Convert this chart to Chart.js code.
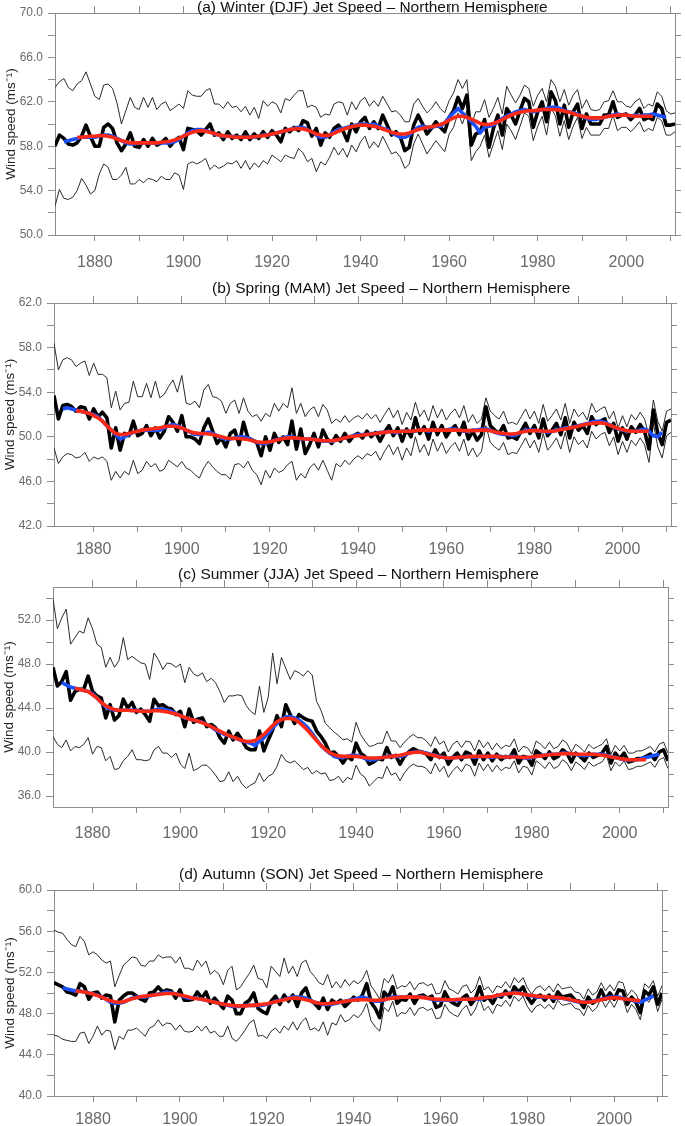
<!DOCTYPE html>
<html><head><meta charset="utf-8">
<script src="https://cdn.jsdelivr.net/npm/chart.js@4.4.1/dist/chart.umd.min.js"></script>
<style>
html,body{margin:0;padding:0;background:#fff;}
#wrap{position:relative;width:685px;height:1126px;overflow:hidden;background:#fff;}
#wrap canvas{position:absolute;left:0;}
</style></head><body>
<div id="wrap">
<canvas id="cA" width="685" height="280" style="top:0px"></canvas>
<canvas id="cB" width="685" height="296" style="top:275px"></canvas>
<canvas id="cC" width="685" height="292" style="top:560px"></canvas>
<canvas id="cD" width="685" height="281" style="top:845px"></canvas>
</div>
<script>
// ---- categories / ticks ----
const firstYear = 1871, lastYear = 2011;
const blueStart = 1873, redStart = 1876;
const xTickYears = [1880,1890,1900,1910,1920,1930,1940,1950,1960,1970,1980,1990,2000,2010];
const xLabelYears = [1880,1900,1920,1940,1960,1980,2000];

// ---- (a) Winter ----
const winterMean = [58.0,59.0,58.7,58.2,58.1,58.3,58.9,59.9,58.9,
58.0,58.0,59.7,60.0,59.6,58.3,57.6,58.2,59.2,58.0,
57.9,58.6,58.0,58.7,58.1,58.3,58.7,58.0,58.5,58.8,
57.7,59.6,59.5,59.4,59.0,59.5,60.0,59.0,59.2,58.6,
59.3,58.7,59.0,58.6,59.3,58.6,59.1,58.7,59.3,58.8,
59.4,59.0,58.4,59.6,59.3,59.7,59.4,60.3,60.1,58.9,
59.6,58.1,59.2,58.8,59.6,59.9,59.4,58.5,60.0,59.3,
60.2,60.6,59.6,60.2,59.6,60.8,59.9,59.0,59.3,58.8,
57.6,57.9,59.9,60.8,60.0,59.1,59.6,60.2,59.7,59.3,
60.6,61.2,62.4,61.4,62.6,58.1,59.1,59.3,60.4,57.9,
59.6,60.8,59.0,61.4,60.8,60.0,61.2,62.3,62.0,59.7,
61.1,62.0,60.2,62.9,62.1,60.0,61.7,59.7,61.1,61.8,
59.6,60.9,60.0,60.0,60.0,60.8,60.8,62.0,60.6,60.8,
60.9,60.4,60.8,61.4,60.4,60.6,60.4,61.8,61.4,59.9,
59.9,60.0];
const winterUpper = [63.3,63.8,64.1,63.3,63.0,63.6,63.9,64.7,63.6,
62.5,62.2,63.5,63.6,63.2,61.9,60.0,61.2,62.4,61.5,
61.3,62.4,61.5,62.4,61.3,61.8,62.0,61.2,61.5,61.8,
61.4,63.0,62.6,62.5,62.5,63.0,63.2,61.8,61.8,61.4,
62.0,61.5,61.6,61.1,61.6,60.8,61.5,60.5,62.1,61.6,
62.0,61.8,61.0,62.3,62.1,62.6,63.0,63.0,61.5,61.7,
61.5,60.6,60.9,60.8,61.8,62.0,61.9,60.8,62.0,61.3,
62.1,62.4,61.6,62.1,61.6,62.5,61.8,61.1,61.2,60.8,
60.2,60.2,61.8,62.3,61.6,61.0,61.4,62.0,61.4,61.0,
62.1,62.8,64.0,63.2,64.0,59.9,61.1,61.1,62.2,60.6,
61.4,62.4,60.9,63.4,62.6,61.9,62.6,63.5,63.2,61.6,
62.6,63.2,62.0,64.0,63.4,62.0,63.1,61.7,62.6,63.1,
61.4,62.2,61.3,61.2,61.3,62.0,62.1,63.0,62.0,62.0,
61.6,61.5,62.0,62.3,61.4,61.8,61.6,62.9,62.5,61.2,
60.9,61.0];
const winterLower = [52.6,54.1,53.3,53.2,53.4,54.0,55.1,54.5,53.7,
54.0,55.5,56.4,56.1,55.0,55.0,55.4,56.1,54.6,54.6,
55.0,54.7,55.1,55.0,54.8,55.3,55.0,55.0,55.6,55.4,
54.1,56.4,56.6,56.4,56.6,56.9,55.9,56.3,56.0,56.2,
56.5,56.4,56.7,56.0,56.7,55.9,56.5,56.1,56.7,56.4,
57.2,56.9,56.6,57.2,57.0,56.9,57.8,57.4,56.6,56.9,
55.7,56.6,56.3,57.0,57.9,57.2,57.8,57.0,58.1,57.5,
58.4,58.9,57.8,58.4,57.9,58.9,58.1,57.3,57.5,57.0,
56.0,56.4,58.2,59.1,58.2,57.3,57.9,58.5,58.0,57.5,
59.1,59.7,61.0,60.0,61.2,56.7,57.5,58.0,59.0,57.0,
58.2,59.4,57.7,60.0,59.4,58.6,59.8,61.0,60.7,58.5,
59.8,60.7,59.0,61.5,60.7,58.9,60.3,58.6,59.8,60.6,
58.7,59.7,59.0,59.0,59.0,59.6,59.6,60.8,59.4,59.7,
59.7,59.3,59.7,60.2,59.3,59.6,59.4,60.6,60.3,59.0,
59.0,59.3];
const winterBlue = [58.4,58.5,58.6,58.7,58.8,58.8,58.8,
58.8,58.9,59.0,59.0,58.9,58.7,58.5,58.3,58.2,58.2,
58.3,58.3,58.3,58.3,58.3,58.3,58.3,58.3,58.4,58.6,
58.9,59.2,59.4,59.5,59.5,59.4,59.3,59.1,59.0,58.9,
58.9,58.9,58.8,58.8,58.8,58.8,58.8,58.9,59.0,59.0,
59.1,59.2,59.3,59.4,59.5,59.6,59.7,59.7,59.5,59.3,
59.0,58.8,58.8,59.0,59.3,59.5,59.6,59.7,59.8,59.9,
60.0,60.0,59.9,60.0,59.8,59.6,59.5,59.2,59.0,58.8,
58.8,59.0,59.4,59.7,59.8,59.7,59.7,59.8,59.8,60.1,
60.6,61.0,61.4,61.0,60.6,60.2,59.8,59.2,59.7,59.8,
59.9,60.2,60.5,60.7,60.9,61.1,61.2,61.3,61.2,61.1,
61.2,61.3,61.4,61.5,61.5,61.4,61.2,61.1,61.0,60.9,
60.7,60.5,60.4,60.4,60.5,60.6,60.7,60.8,60.9,60.8,
60.8,60.7,60.8,60.7,60.8,60.8,60.9,60.8,60.7,60.6];
const winterRed = [58.8,58.8,58.85,58.9,
58.9,58.95,58.95,58.9,58.8,58.65,58.5,58.4,58.3,58.3,
58.3,58.3,58.3,58.3,58.3,58.35,58.4,58.45,58.55,58.7,
58.9,59.1,59.25,59.35,59.4,59.35,59.25,59.15,59.0,58.95,
58.9,58.85,58.8,58.8,58.8,58.8,58.85,58.9,58.95,59.0,
59.1,59.2,59.3,59.4,59.5,59.55,59.6,59.55,59.45,59.3,
59.1,59.0,58.95,59.0,59.15,59.35,59.5,59.65,59.75,59.85,
59.9,59.9,59.85,59.8,59.7,59.55,59.4,59.25,59.15,59.1,
59.1,59.2,59.35,59.5,59.6,59.7,59.75,59.85,59.95,60.1,
60.35,60.55,60.7,60.7,60.6,60.45,60.25,60.05,59.95,59.95,
60.05,60.2,60.4,60.6,60.8,60.95,61.05,61.15,61.2,61.2,
61.25,61.3,61.3,61.3,61.3,61.25,61.15,61.05,60.95,60.8,
60.7,60.6,60.55,60.55,60.55,60.6,60.7,60.75,60.8,60.8,
60.8,60.75,60.7,60.7,60.7,60.7,60.7];

// ---- (b) Spring ----
const springMean = [53.7,51.6,52.8,52.9,52.7,52.3,52.7,52.6,51.6,
52.5,51.8,52.2,51.7,49.0,50.8,48.8,50.3,50.1,51.4,
50.1,50.3,51.0,50.1,50.8,49.9,50.5,51.8,51.3,50.5,
51.9,50.0,50.0,49.8,49.4,50.8,51.6,50.5,49.4,49.9,
49.1,50.3,50.6,49.3,51.3,49.9,49.7,49.5,48.3,50.0,
48.8,50.3,49.5,50.0,49.3,51.4,48.9,50.7,48.5,49.3,
50.3,49.1,50.6,49.8,49.4,50.1,49.6,50.3,49.6,50.1,
50.3,49.9,50.5,50.0,50.4,49.6,50.4,51.0,50.1,50.8,
49.6,50.7,50.0,51.7,50.3,50.9,49.8,51.3,50.2,51.0,
50.0,50.6,51.0,50.2,51.3,49.8,50.5,49.7,50.2,52.7,
51.0,50.6,50.3,51.0,49.9,50.0,49.8,50.5,51.2,50.3,
51.0,49.9,51.6,50.1,50.6,51.2,50.2,51.7,49.9,51.3,
50.6,51.0,50.3,51.8,51.1,51.4,51.6,50.4,51.2,49.6,
50.8,49.8,50.9,50.4,51.1,50.5,48.9,52.4,50.3,49.3,
51.3,51.5];
const springUpper = [58.4,56.0,56.9,57.1,56.9,56.3,56.6,56.8,55.5,
56.6,55.6,55.6,55.3,52.6,54.1,52.4,53.0,53.1,55.0,
53.6,53.6,54.8,53.5,55.0,53.5,53.8,54.5,55.1,54.0,
55.5,53.0,52.9,53.2,52.6,54.2,54.7,53.6,53.5,53.2,
52.1,53.0,53.3,52.1,53.5,52.3,51.8,52.0,51.4,52.1,
51.8,53.0,52.3,53.0,52.6,54.4,52.1,53.0,51.8,52.4,
52.7,51.8,52.9,52.4,51.2,51.6,51.3,51.9,51.3,51.7,
51.9,51.6,52.1,51.6,52.0,51.3,52.0,52.6,51.7,52.4,
51.1,52.2,51.5,53.1,51.8,52.4,51.4,52.8,51.7,52.5,
51.5,52.1,52.5,51.7,52.8,51.3,52.0,51.2,51.6,53.5,
52.3,51.9,51.6,52.3,51.2,51.3,51.1,51.8,52.5,51.6,
52.3,51.2,52.9,51.4,51.9,52.5,51.5,53.0,51.2,52.5,
51.8,52.2,51.5,53.0,52.2,52.5,52.7,51.6,52.3,50.8,
51.9,50.9,52.0,51.5,52.2,51.6,50.1,53.3,51.4,50.5,
52.3,52.5];
const springLower = [49.0,47.6,48.2,48.5,48.4,48.1,48.2,48.6,47.8,
48.2,48.0,48.2,47.8,46.1,46.9,46.3,46.9,46.6,47.9,
46.7,47.0,47.8,47.3,47.6,46.9,47.1,47.9,47.6,47.3,
47.8,47.2,47.0,46.6,46.3,47.2,47.8,47.3,46.9,46.6,
46.6,46.2,47.5,47.6,47.2,47.8,47.0,46.6,45.7,47.0,
46.3,47.2,46.8,47.0,47.5,47.8,46.1,46.7,46.3,47.2,
47.6,47.0,47.9,47.0,46.1,47.6,47.3,47.9,47.5,48.0,
48.3,48.0,48.5,48.3,48.7,47.9,48.7,49.3,48.4,49.1,
47.9,49.0,48.3,50.0,48.6,49.3,48.3,49.8,48.7,49.5,
48.5,49.1,49.5,48.7,49.8,48.3,49.0,48.2,48.7,51.0,
49.5,49.1,48.8,49.5,48.4,48.6,48.5,49.2,49.9,49.0,
49.7,48.6,50.3,48.8,49.3,49.9,48.9,50.4,48.6,50.0,
49.3,49.7,49.0,50.5,49.8,50.2,50.4,49.2,50.0,48.4,
49.6,48.6,49.7,49.2,49.9,49.3,47.7,51.2,49.1,48.1,
50.1,50.4];
const springBlue = [52.5,52.6,52.5,52.4,52.3,52.2,52.1,
52.0,51.8,51.4,51.0,50.6,50.2,49.8,50.0,50.2,50.4,
50.5,50.6,50.6,50.6,50.6,50.6,50.8,51.0,51.1,51.0,
50.8,50.6,50.4,50.2,50.2,50.3,50.4,50.3,50.1,49.9,
49.8,49.8,49.9,50.0,50.0,49.9,49.7,49.5,49.4,49.4,
49.5,49.7,49.8,49.9,50.0,50.0,49.9,49.8,49.8,49.8,
49.8,49.7,49.6,49.6,49.6,49.7,49.8,49.9,50.0,50.1,
50.2,50.2,50.2,50.3,50.3,50.4,50.4,50.5,50.4,50.4,
50.5,50.5,50.5,50.5,50.6,50.6,50.5,50.6,50.6,50.6,
50.6,50.7,50.7,50.6,50.5,50.5,50.6,50.6,50.7,50.7,
50.6,50.4,50.3,50.2,50.2,50.1,50.2,50.4,50.6,50.6,
50.6,50.5,50.5,50.4,50.5,50.6,50.7,50.8,50.8,50.9,
51.0,51.1,51.2,51.3,51.4,51.4,51.3,51.1,50.9,50.7,
50.6,50.5,50.5,50.5,50.6,50.7,50.5,50.1,50.0,50.4];
const springRed = [52.3,52.3,52.2,52.1,
51.9,51.7,51.4,51.0,50.6,50.3,50.2,50.2,50.3,50.4,
50.5,50.6,50.65,50.7,50.75,50.8,50.9,50.95,50.95,50.9,
50.8,50.6,50.45,50.35,50.3,50.3,50.25,50.2,50.1,50.0,
49.9,49.85,49.85,49.85,49.8,49.75,49.65,49.55,49.5,49.5,
49.55,49.65,49.75,49.85,49.9,49.9,49.9,49.85,49.8,49.8,
49.75,49.7,49.65,49.65,49.65,49.7,49.8,49.9,50.0,50.05,
50.1,50.15,50.2,50.25,50.3,50.35,50.4,50.45,50.45,50.45,
50.5,50.5,50.5,50.55,50.6,50.6,50.6,50.6,50.6,50.6,
50.6,50.6,50.6,50.6,50.55,50.55,50.55,50.55,50.6,50.6,
50.55,50.45,50.35,50.3,50.25,50.25,50.3,50.4,50.5,50.55,
50.55,50.55,50.5,50.5,50.5,50.55,50.65,50.7,50.8,50.85,
50.95,51.05,51.15,51.2,51.25,51.25,51.2,51.05,50.9,50.75,
50.65,50.55,50.5,50.5,50.5,50.5,50.5];

// ---- (c) Summer ----
const summerMean = [47.7,46.0,46.4,47.3,44.7,45.5,45.7,45.7,46.9,
45.5,45.1,44.9,43.1,44.3,42.9,43.3,44.8,44.0,44.5,
43.6,43.9,43.4,42.8,44.8,44.2,44.3,44.0,43.9,43.4,
43.7,42.3,43.9,42.7,43.0,43.1,42.3,42.5,42.2,41.3,
40.8,41.9,41.1,41.7,41.1,40.4,40.2,40.2,41.9,40.1,
41.1,42.0,43.3,42.3,44.3,43.4,42.6,43.4,43.1,42.9,
42.8,41.9,41.4,40.8,39.9,40.0,39.6,39.0,39.6,39.3,
40.8,39.9,39.6,38.9,39.1,39.4,39.3,40.4,39.5,39.7,
38.9,39.6,40.0,40.3,40.1,40.0,39.8,39.3,40.2,39.5,
39.9,38.9,39.5,39.9,39.3,40.0,39.8,38.9,40.1,39.3,
39.9,39.2,39.8,39.3,39.6,39.5,40.2,39.0,39.6,39.5,
38.8,40.1,39.8,39.4,40.0,39.4,39.6,40.2,39.9,39.1,
39.9,39.6,39.2,39.9,39.5,39.7,39.9,40.5,39.0,39.9,
39.4,39.9,39.1,39.2,39.4,39.4,39.6,39.8,39.3,40.0,
40.2,39.2];
const summerUpper = [53.9,51.2,52.2,53.0,49.8,50.4,51.0,50.8,52.2,
51.2,49.8,49.5,47.7,48.6,47.7,48.3,50.4,48.4,48.7,
48.4,48.1,48.0,46.6,49.0,48.4,47.5,48.1,48.0,47.7,
48.0,46.3,47.7,47.1,46.9,47.2,46.4,46.7,46.3,45.5,
44.5,45.1,45.1,45.2,45.1,44.2,43.7,43.4,46.0,43.6,
45.0,49.0,46.2,48.6,47.6,46.6,47.4,47.2,46.9,47.4,
47.0,44.6,43.8,42.6,42.2,41.8,41.5,41.1,41.2,40.9,
42.7,41.6,41.0,40.5,40.6,40.8,40.8,41.9,41.0,41.0,
40.4,40.9,41.3,41.6,41.3,41.3,41.0,40.5,41.4,40.7,
41.0,40.0,40.7,41.0,40.4,41.0,40.9,40.1,41.1,40.4,
40.9,40.2,40.8,40.3,40.6,40.5,41.2,40.0,40.5,40.4,
39.8,41.0,40.7,40.3,40.9,40.3,40.5,41.1,40.8,40.0,
40.7,40.4,40.0,40.7,40.3,40.5,40.7,41.2,39.8,40.6,
40.1,40.6,39.9,39.9,40.1,40.1,40.3,40.5,40.0,40.7,
40.9,39.9];
const summerLower = [41.4,40.7,40.4,41.1,40.1,40.5,40.4,40.7,41.3,
39.8,40.5,40.4,39.2,39.6,38.4,38.5,39.2,39.6,40.2,
39.3,39.3,39.2,39.3,40.2,40.5,39.9,39.9,39.5,39.9,
38.9,38.5,39.9,38.3,38.5,38.8,38.8,38.4,37.9,37.3,
37.4,38.2,37.3,37.8,37.1,36.7,37.0,37.2,38.1,37.3,
37.8,38.0,38.7,39.8,39.2,39.0,39.2,38.8,38.4,38.6,
38.0,38.3,38.0,38.1,37.4,37.5,37.8,37.2,37.7,37.5,
38.8,38.0,37.7,36.9,37.3,37.7,37.6,38.7,37.9,38.1,
37.4,38.1,38.6,38.9,38.7,38.7,38.5,38.0,39.0,38.2,
38.7,37.7,38.3,38.7,38.2,38.9,38.7,37.8,39.0,38.3,
38.9,38.2,38.8,38.3,38.6,38.5,39.2,38.1,38.7,38.6,
37.9,39.2,38.9,38.5,39.1,38.5,38.7,39.3,39.0,38.3,
39.1,38.8,38.4,39.1,38.7,38.9,39.1,39.7,38.3,39.1,
38.7,39.2,38.4,38.5,38.7,38.7,38.9,39.1,38.6,39.3,
39.5,38.5];
const summerBlue = [46.3,46.1,45.9,45.8,45.7,45.6,45.5,
45.3,44.9,44.5,44.1,43.9,43.8,43.8,43.8,43.8,43.8,
43.8,43.7,43.7,43.7,43.8,43.9,43.9,43.8,43.7,43.5,
43.3,43.1,43.0,42.9,42.8,42.7,42.5,42.3,42.0,41.8,
41.6,41.5,41.3,41.2,41.0,40.9,40.8,40.6,41.0,41.3,
41.7,42.2,42.6,43.0,43.2,43.2,43.1,42.9,42.6,42.2,
41.7,41.1,40.6,40.2,39.9,39.6,39.5,39.5,39.6,39.7,
39.7,39.6,39.4,39.3,39.3,39.4,39.5,39.6,39.6,39.6,
39.6,39.7,39.9,40.0,40.0,40.0,39.9,39.8,39.7,39.6,
39.5,39.4,39.5,39.5,39.5,39.6,39.6,39.5,39.6,39.6,
39.6,39.5,39.6,39.6,39.5,39.6,39.6,39.5,39.5,39.4,
39.5,39.6,39.7,39.7,39.8,39.8,39.8,39.9,39.9,39.8,
39.8,39.7,39.7,39.7,39.8,39.8,39.8,39.7,39.6,39.5,
39.4,39.3,39.3,39.3,39.3,39.4,39.5,39.6,39.7,39.8];
const summerRed = [45.8,45.7,45.6,45.5,
45.2,44.9,44.5,44.2,44.0,43.85,43.8,43.8,43.8,43.75,
43.75,43.7,43.7,43.7,43.75,43.75,43.7,43.65,43.55,43.45,
43.3,43.15,43.0,42.9,42.8,42.65,42.5,42.3,42.1,41.9,
41.7,41.5,41.35,41.2,41.05,40.95,40.95,41.05,41.3,41.6,
42.0,42.4,42.75,42.95,43.05,43.05,42.95,42.7,42.35,41.95,
41.5,41.05,40.6,40.25,39.95,39.75,39.65,39.6,39.6,39.6,
39.6,39.55,39.5,39.45,39.45,39.45,39.5,39.55,39.6,39.65,
39.7,39.8,39.9,39.95,40.0,39.95,39.85,39.75,39.65,39.55,
39.5,39.45,39.45,39.5,39.55,39.55,39.6,39.6,39.6,39.6,
39.6,39.6,39.6,39.55,39.55,39.55,39.55,39.55,39.5,39.5,
39.55,39.6,39.65,39.7,39.75,39.8,39.8,39.85,39.85,39.85,
39.8,39.8,39.8,39.8,39.8,39.75,39.7,39.65,39.55,39.5,
39.4,39.35,39.3,39.3,39.3,39.3,39.3];

// ---- (d) Autumn ----
const autumnMean = [51.0,50.8,50.6,50.1,50.0,49.8,50.9,50.6,49.4,
50.0,50.1,49.5,49.8,49.7,47.2,49.3,49.7,50.0,50.0,
49.7,49.4,49.2,50.0,50.1,50.6,50.1,50.3,50.2,49.5,
50.3,49.3,49.3,49.4,50.1,49.5,50.1,49.0,49.5,49.0,
48.5,49.7,49.3,48.0,48.0,49.0,49.3,50.0,48.5,48.2,
48.0,49.2,49.7,48.9,49.8,49.2,49.8,48.7,50.0,50.5,
49.3,49.0,48.5,49.5,48.4,49.3,49.0,49.3,48.7,49.1,
49.6,49.3,49.8,50.9,49.1,48.5,47.6,50.1,49.6,50.6,
49.0,49.4,49.3,49.9,49.0,49.7,49.8,49.5,49.7,48.6,
48.8,50.1,49.3,49.0,48.8,49.5,49.8,48.9,49.4,50.6,
49.3,49.6,49.0,49.8,49.6,50.2,49.6,50.6,50.1,50.6,
49.6,49.0,49.6,49.8,49.3,49.8,49.2,50.1,49.6,49.7,
49.8,49.3,49.2,48.6,49.6,49.0,49.3,50.3,49.4,50.0,
49.4,50.3,50.2,48.9,49.6,49.1,48.1,50.2,49.8,50.6,
48.9,50.0];
const autumnUpper = [56.1,55.9,55.8,55.2,54.7,54.5,55.5,55.0,53.7,
54.0,53.7,53.2,52.9,53.1,50.6,51.7,52.7,53.1,53.5,
53.4,52.7,52.6,53.1,53.1,53.7,53.4,53.5,53.5,52.9,
53.5,52.4,52.4,52.2,53.2,52.6,53.1,51.8,52.2,51.8,
50.8,52.2,52.6,50.3,50.6,51.3,51.9,52.7,51.4,51.3,
50.5,52.6,52.1,51.6,53.4,51.9,52.6,51.6,52.9,53.2,
52.1,51.6,51.0,50.8,51.8,50.5,51.1,50.5,51.3,50.7,
51.2,50.9,51.3,52.2,50.7,50.1,49.4,51.4,51.0,51.8,
50.4,50.7,50.6,51.1,50.3,50.9,51.0,50.7,50.9,49.9,
50.0,51.2,50.4,50.2,49.9,50.6,50.8,50.0,50.4,51.6,
50.3,50.6,50.0,50.7,50.5,51.1,50.5,51.5,51.0,51.5,
50.5,49.9,50.5,50.7,50.2,50.7,50.1,50.9,50.4,50.5,
50.6,50.1,50.0,49.4,50.4,49.8,50.1,51.0,50.2,50.8,
50.2,51.1,51.0,49.7,50.3,49.9,49.0,50.9,50.5,51.2,
49.7,50.7];
const autumnLower = [45.9,45.8,45.5,45.4,45.3,45.3,46.1,46.2,45.1,
45.8,46.8,45.9,46.4,46.3,44.5,45.8,45.5,46.4,46.4,
46.6,46.2,45.8,46.6,46.8,47.4,46.8,47.1,47.0,46.4,
46.9,46.3,46.2,46.3,46.8,46.3,46.8,46.1,46.3,45.8,
45.8,46.8,45.6,45.3,45.8,46.4,47.1,47.4,45.8,45.9,
45.6,46.3,46.6,46.1,46.8,46.4,47.2,46.4,47.2,47.6,
46.4,46.6,46.3,47.2,45.9,47.1,46.9,47.9,47.2,47.4,
47.9,47.6,48.1,49.0,47.3,46.7,46.3,48.6,48.2,49.2,
47.7,48.1,48.0,48.6,47.8,48.5,48.6,48.3,48.5,47.5,
47.6,48.9,48.2,47.9,47.7,48.4,48.8,47.8,48.4,49.5,
48.3,48.7,48.0,48.9,48.7,49.3,48.7,49.7,49.2,49.7,
48.7,48.1,48.7,48.9,48.5,48.9,48.4,49.3,48.8,48.9,
49.0,48.5,48.4,47.8,48.8,48.2,48.6,49.5,48.6,49.3,
48.6,49.5,49.5,48.1,48.9,48.4,47.4,49.5,49.1,49.9,
48.2,49.4];
const autumnBlue = [50.5,50.4,50.3,50.2,50.2,50.1,50.0,
49.9,49.8,49.6,49.4,49.1,49.0,49.0,49.1,49.3,49.5,
49.6,49.6,49.6,49.7,49.8,49.9,50.0,50.1,50.0,49.9,
49.8,49.6,49.5,49.5,49.5,49.4,49.3,49.2,49.1,49.0,
48.9,48.8,48.7,48.7,48.7,48.8,48.8,48.8,48.8,48.8,
48.9,49.0,49.2,49.3,49.4,49.5,49.6,49.6,49.6,49.5,
49.3,49.1,49.0,48.9,48.9,48.9,49.0,49.1,49.2,49.3,
49.4,49.5,49.6,49.5,49.3,49.2,49.2,49.3,49.5,49.6,
49.6,49.6,49.6,49.6,49.6,49.6,49.6,49.5,49.4,49.3,
49.3,49.3,49.3,49.3,49.3,49.4,49.4,49.4,49.4,49.4,
49.5,49.6,49.6,49.7,49.8,49.9,50.0,50.0,50.0,49.9,
49.8,49.7,49.6,49.6,49.6,49.6,49.5,49.5,49.5,49.4,
49.3,49.2,49.1,49.1,49.1,49.2,49.3,49.4,49.5,49.6,
49.6,49.6,49.5,49.4,49.3,49.2,49.1,49.3,49.5,49.7];
const autumnRed = [50.2,50.15,50.1,50.0,
49.9,49.75,49.6,49.4,49.25,49.15,49.1,49.15,49.3,49.45,
49.55,49.65,49.7,49.75,49.8,49.85,49.9,49.95,49.95,49.9,
49.8,49.7,49.6,49.5,49.45,49.4,49.3,49.2,49.1,49.0,
48.9,48.85,48.8,48.75,48.75,48.75,48.8,48.8,48.85,48.9,
48.95,49.05,49.15,49.25,49.35,49.45,49.5,49.5,49.45,49.35,
49.25,49.1,49.0,48.95,48.95,49.0,49.05,49.1,49.2,49.25,
49.3,49.35,49.35,49.35,49.3,49.3,49.3,49.35,49.45,49.5,
49.55,49.6,49.6,49.6,49.6,49.6,49.55,49.5,49.45,49.4,
49.4,49.35,49.35,49.35,49.4,49.4,49.4,49.4,49.45,49.5,
49.55,49.6,49.65,49.75,49.85,49.9,49.95,50.0,49.95,49.9,
49.8,49.75,49.7,49.65,49.65,49.6,49.6,49.55,49.5,49.45,
49.35,49.25,49.15,49.1,49.1,49.15,49.25,49.35,49.45,49.5,
49.55,49.5,49.45,49.4,49.35,49.3,49.25];

// ---- y tick values & labelled ticks per panel ----
const yTicksA = [50,52,54,56,58,60,62,64,66,68,70];
const yLabelsA = [50,54,58,62,66,70];
const yTicksB = [42,44,46,48,50,52,54,56,58,60,62];
const yLabelsB = [42,46,50,54,58,62];
const yTicksC = [36,38,40,42,44,46,48,50,52,54];
const yLabelsC = [36,40,44,48,52];
const yTicksD = [40,42,44,46,48,50,52,54,56,58,60];
const yLabelsD = [40,44,48,52,56,60];

// ---- rendering ----
const FONT = '"Liberation Sans", Arial, Helvetica, sans-serif';
Chart.defaults.font.family = FONT;
const AX = '#8c8c8c';
const WY = 52, WR = 8, HT = 9, HX = 40, CW = 685;

function pts(arr, start){ return arr.map((v,i)=>({x:start+i, y:v})); }

const panelTitle = {
  id:'panelTitle',
  afterDraw(chart, args, o){
    const c = chart.ctx; c.save();
    c.font = '15.5px ' + FONT; c.fillStyle = '#111';
    c.textAlign = 'left'; c.textBaseline = 'middle';
    c.fillText(o.text, o.x, o.y); c.restore();
  }
};

const panels = [
  {id:'cA', h:280, area:{l:55,r:675,t:13,b:235}, yMin:50, yMax:70, yTicks:yTicksA, yLabels:yLabelsA, xPad:11.5,
   title:'(a) Winter (DJF) Jet Speed – Northern Hemisphere', tx:197, ty:7.5,
   mean:winterMean, upper:winterUpper, lower:winterLower, blue:winterBlue, red:winterRed},
  {id:'cB', h:296, area:{l:54,r:671,t:28,b:251}, yMin:42, yMax:62, yTicks:yTicksB, yLabels:yLabelsB, xPad:8,
   title:'(b) Spring (MAM) Jet Speed – Northern Hemisphere', tx:212, ty:13.5,
   mean:springMean, upper:springUpper, lower:springLower, blue:springBlue, red:springRed},
  {id:'cC', h:292, area:{l:53,r:668,t:27,b:247}, yMin:35, yMax:55, yTicks:yTicksC, yLabels:yLabelsC, xPad:10.5,
   title:'(c) Summer (JJA) Jet Speed – Northern Hemisphere', tx:178, ty:15,
   mean:summerMean, upper:summerUpper, lower:summerLower, blue:summerBlue, red:summerRed},
  {id:'cD', h:281, area:{l:54,r:662,t:45,b:251}, yMin:40, yMax:60, yTicks:yTicksD, yLabels:yLabelsD, xPad:8,
   title:'(d) Autumn (SON) Jet Speed – Northern Hemisphere', tx:179, ty:29.5,
   mean:autumnMean, upper:autumnUpper, lower:autumnLower, blue:autumnBlue, red:autumnRed}
];

panels.forEach(p => {
  const setX = s => { s.ticks = xTickYears.map(v => ({value:v})); };
  const setY = s => { s.ticks = p.yTicks.map(v => ({value:v})); };
  const thin = {borderColor:'#2a2a2a', borderWidth:1, order:5};
  const hx = Math.min(HX, p.h - p.area.b);
  new Chart(document.getElementById(p.id), {
    type:'line',
    data:{datasets:[
      Object.assign({data:pts(p.upper, firstYear)}, thin),
      Object.assign({data:pts(p.lower, firstYear)}, thin),
      {data:pts(p.mean, firstYear), borderColor:'#000', borderWidth:3.6, order:3},
      {data:pts(p.blue, blueStart), borderColor:'#1a4ffa', borderWidth:3.6, order:2},
      {data:pts(p.red, redStart), borderColor:'#fa2a16', borderWidth:3.6, order:1}
    ]},
    options:{
      responsive:false, animation:false, devicePixelRatio:1,
      events:[],
      elements:{point:{radius:0}, line:{tension:0, borderJoinStyle:'round', borderCapStyle:'butt', fill:false}},
      plugins:{legend:{display:false}, tooltip:{enabled:false},
        panelTitle:{text:p.title, x:p.tx, y:p.ty}},
      layout:{padding:{left:p.area.l-WY, right:CW-p.area.r-WR, top:p.area.t-HT, bottom:p.h-p.area.b-hx}},
      scales:{
        x:{type:'linear', position:'bottom', min:firstYear, max:lastYear,
           afterBuildTicks:setX, afterFit:s=>{s.height=hx;},
           grid:{drawOnChartArea:false, drawTicks:true, tickLength:6, color:AX},
           border:{color:AX, width:1},
           ticks:{autoSkip:false, maxRotation:0, padding:p.xPad, color:'#6a6a6a', font:{size:16},
                  callback:v => xLabelYears.includes(v) ? String(v) : ''}},
        x2:{type:'linear', position:'top', min:firstYear, max:lastYear,
           afterBuildTicks:setX, afterFit:s=>{s.height=HT;},
           grid:{drawOnChartArea:false, drawTicks:true, tickLength:7, color:AX},
           border:{color:AX, width:1}, ticks:{display:false}},
        y:{type:'linear', position:'left', min:p.yMin, max:p.yMax,
           afterBuildTicks:setY, afterFit:s=>{s.width=WY;},
           grid:{drawOnChartArea:false, drawTicks:true, tickLength:7, color:AX},
           border:{color:AX, width:1},
           ticks:{autoSkip:false, padding:5, color:'#6a6a6a', font:{size:12},
                  callback:v => p.yLabels.includes(v) ? v.toFixed(1) : ''},
           title:{display:true, text:'Wind speed (ms\u207B\u00B9)', color:'#222', font:{size:13.5}, padding:0}},
        y2:{type:'linear', position:'right', min:p.yMin, max:p.yMax,
           afterBuildTicks:setY, afterFit:s=>{s.width=WR;},
           grid:{drawOnChartArea:false, drawTicks:true, tickLength:6, color:AX},
           border:{color:AX, width:1}, ticks:{display:false}}
      }
    },
    plugins:[panelTitle]
  });
});
</script>
</body></html>
